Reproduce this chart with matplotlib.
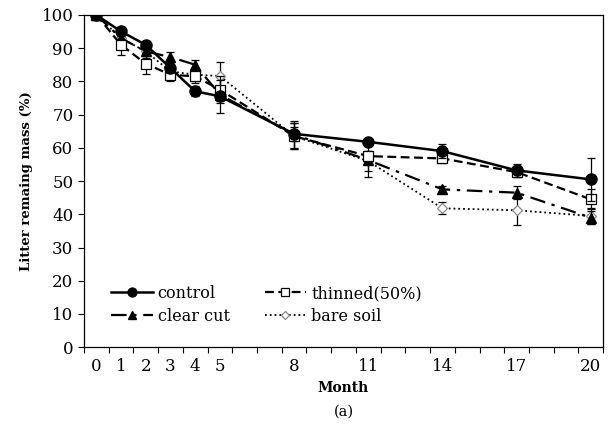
import matplotlib.pyplot as plt
from matplotlib.lines import Line2D
from matplotlib.ticker import FixedLocator, NullFormatter

plt.rcParams['font.family'] = ['DejaVu Serif']

months = [0, 1, 2, 3, 4, 5, 8, 11, 14, 17, 20]

control = [100, 95, 91, 84, 77, 75.5, 64.2, 61.8, 59, 53.2, 50.5]
control_err = [0, 1.5, 1, 1.5, 1.5, 5, 2, 1, 2, 2, 6.5]

thinned = [100, 91, 85.3, 82, 81.5, 77.5, 63.5, 57.5, 56.8, 52.7, 44.5]
thinned_err = [0, 3.2, 3.2, 2, 2, 4, 4, 1.5, 1.5, 1.5, 3]

clear_cut = [100, 93, 89, 87.3, 85, 76, 64, 56.3, 47.5, 46.5, 39]
clear_cut_err = [0, 1.5, 1.5, 1.5, 1.5, 2, 4, 5, 1, 2, 2]

bare_soil = [100, 93, 89, 83, 82, 81.6, 63.5, 56, 41.8, 41.2, 39.5]
bare_soil_err = [0, 2, 2, 2, 2, 4.2, 4, 3, 1.8, 4.4, 2.5]

fig = plt.figure(figsize=(6.08, 4.25), dpi=100)
ax = fig.add_axes([0.138, 0.183, 0.854, 0.782])

# line styles per series
styles = {
    'control': dict(ls='-', marker='o', lw=1.8, ms=8, mfc='black', mec='black'),
    'thinned(50%)': dict(ls=(0, (4, 2)), marker='s', lw=1.6, ms=7, mfc='white',
                         mec='black', mew=0.9),
    'clear cut': dict(ls=(0, (7, 3, 1.5, 3)), marker='^', lw=1.6, ms=7,
                      mfc='black', mec='black'),
    'bare soil': dict(ls=':', marker='D', lw=1.3, ms=5, mfc='white',
                      mec='#888888', mew=0.9),
}
series = [('control', control, control_err, 5),
          ('thinned(50%)', thinned, thinned_err, 4),
          ('clear cut', clear_cut, clear_cut_err, 3),
          ('bare soil', bare_soil, bare_soil_err, 2)]

for name, vals, err, z in series:
    ax.errorbar(months, vals, yerr=err, fmt='none', ecolor='black', elinewidth=0.9,
                capsize=3, capthick=0.9, zorder=z)
    ax.plot(months, vals, color='black', zorder=z, **styles[name])

ax.set_xlim(-0.5, 20.5)
ax.set_ylim(0, 100)
ax.set_yticks(range(0, 101, 10))
ax.xaxis.set_major_locator(FixedLocator(months))
ax.xaxis.set_minor_locator(FixedLocator([x + 0.5 for x in range(-1, 21)]))
ax.xaxis.set_minor_formatter(NullFormatter())
ax.tick_params(axis='x', which='major', length=0, labelsize=12, pad=8)
ax.tick_params(axis='x', which='minor', length=4, direction='out', width=0.8)
ax.tick_params(axis='y', length=4, direction='out', width=0.8, labelsize=12)

for s in ax.spines.values():
    s.set_linewidth(0.9)

ax.set_xlabel('Month', fontsize=10, fontweight='bold', labelpad=4)
ax.set_ylabel('Litter remaing mass (%)', fontsize=9.5, fontweight='bold', labelpad=6)

order = ['control', 'clear cut', 'thinned(50%)', 'bare soil']
handles = [Line2D([], [], color='black', **styles[n]) for n in order]
ax.legend(handles, order, ncol=2, loc='lower left', bbox_to_anchor=(0.025, 0.025),
          frameon=False, fontsize=11.5, handlelength=2.6, columnspacing=2.2,
          handletextpad=0.3, labelspacing=0.35, markerscale=0.8)

fig.text(0.565, 0.022, '(a)', ha='center', fontsize=10.5)

fig.savefig('out.png', dpi=100)
